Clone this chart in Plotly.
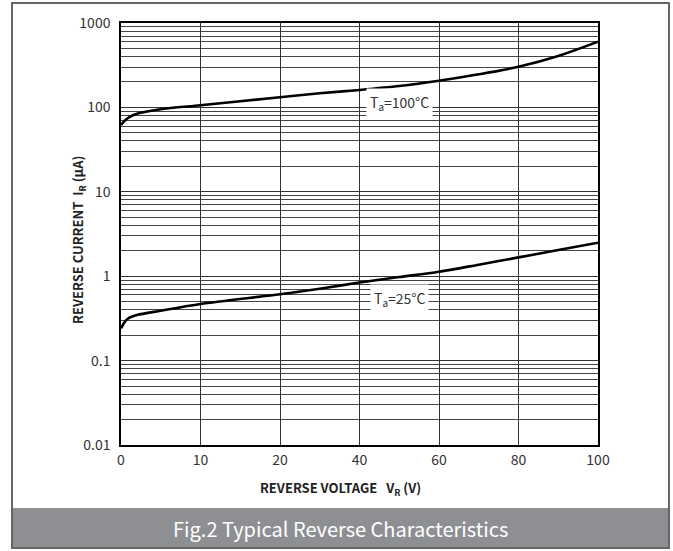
import numpy as np
import plotly.graph_objects as go

# Tick labels of the (non-uniform) voltage axis, equally spaced in the original
x_tick_values = [0, 10, 20, 40, 60, 80, 100]
y_tick_values = [0.01, 0.1, 1, 10, 100, 1000]
y_tick_labels = ["0.01", "0.1", "1", "10", "100", "1000"]

# Reverse voltage samples (V)
voltage = [0, 0.5, 1, 2, 5, 10, 20, 30, 40, 50, 60, 70, 80, 90, 100]
# Reverse current (uA)
current_100c = [62, 70, 76, 84, 95, 106, 132, 147, 161, 179, 207, 247, 303, 406, 600]
current_25c = [0.241, 0.29, 0.32, 0.347, 0.39, 0.469, 0.611, 0.71, 0.841, 0.977, 1.13, 1.37, 1.67, 2.04, 2.49]

label_100c = {"v": 50, "i": 113, "text": "T<sub>a</sub>=100°C"}
label_25c = {"v": 50, "i": 0.537, "text": "T<sub>a</sub>=25°C"}

tick_pos = list(range(len(x_tick_values)))


def vpos(v):
    return np.interp(v, x_tick_values, tick_pos)


FONT = "Noto Sans CJK SC"
fig = go.Figure()
for cur in (current_100c, current_25c):
    fig.add_trace(go.Scatter(
        x=vpos(np.array(voltage)), y=cur, mode="lines",
        line=dict(color="black", width=2.6, shape="spline", smoothing=0.8),
        showlegend=False, hoverinfo="skip"))

minor_vals = [m * 10.0 ** e for e in range(-2, 3) for m in range(2, 10)]

fig.update_layout(
    width=673, height=551,
    margin=dict(l=121, r=75, t=23, b=106, autoexpand=False),
    paper_bgcolor="white", plot_bgcolor="white",
    font=dict(family=FONT, color="#333333", size=14),
    xaxis=dict(
        range=[0, 6], tickmode="array", tickvals=tick_pos,
        ticktext=[str(v) for v in x_tick_values],
        showgrid=True, gridcolor="#333333", gridwidth=1,
        zeroline=False, showline=True, linecolor="black", linewidth=1.5,
        mirror=True, ticks="", ticklen=0, ticklabelstandoff=1,
        tickfont=dict(size=14, color="#333333"),
    ),
    yaxis=dict(
        type="log", range=[-2, 3], tickmode="array",
        tickvals=y_tick_values, ticktext=y_tick_labels,
        showgrid=True, gridcolor="#333333", gridwidth=1,
        minor=dict(tickvals=minor_vals, showgrid=True,
                   gridcolor="#444444", gridwidth=1, ticks=""),
        zeroline=False, showline=True, linecolor="black", linewidth=1.5,
        mirror=True, ticks="", ticklen=0, ticklabelstandoff=6,
        tickfont=dict(size=14, color="#333333"),
    ),
)

# axis titles
fig.add_annotation(xref="paper", yref="paper", x=0.46, y=-0.102,
                   xanchor="center", yanchor="middle",
                   text="<b>REVERSE VOLTAGE   V<sub>R</sub> (V)</b>", showarrow=False,
                   font=dict(family=FONT, size=13, color="#222222"))
fig.add_annotation(xref="paper", yref="paper", x=-0.088, y=0.486, textangle=-90,
                   xanchor="center", yanchor="middle",
                   text="<b>REVERSE CURRENT  I<sub>R</sub> (μA)</b>", showarrow=False,
                   font=dict(family=FONT, size=13, color="#222222"))

for lab in (label_100c, label_25c):
    fig.add_annotation(
        x=float(vpos(lab["v"])), y=np.log10(lab["i"]), text=lab["text"],
        xanchor="center", yanchor="middle",
        showarrow=False, bgcolor="white", borderpad=3,
        font=dict(family=FONT, size=14, color="#333333"))

# outer frame and caption banner
fig.add_shape(type="rect", xref="paper", yref="paper",
              x0=-0.2285, x1=1.1488, y0=-0.244, y1=-0.1493,
              fillcolor="#8e8f93", line=dict(width=0))
fig.add_shape(type="rect", xref="paper", yref="paper",
              x0=-0.2285, x1=1.1488, y0=-0.244, y1=1.0474,
              line=dict(color="#666666", width=2))
fig.add_annotation(xref="paper", yref="paper", x=0.46, y=-0.1967,
                   xanchor="center", yanchor="middle",
                   text="Fig.2 Typical Reverse Characteristics", showarrow=False,
                   font=dict(family=FONT, size=20, color="white"))

fig.write_html("out.html", config={"displayModeBar": False},
               post_script="document.body.style.margin='0';document.body.style.overflow='hidden';")
